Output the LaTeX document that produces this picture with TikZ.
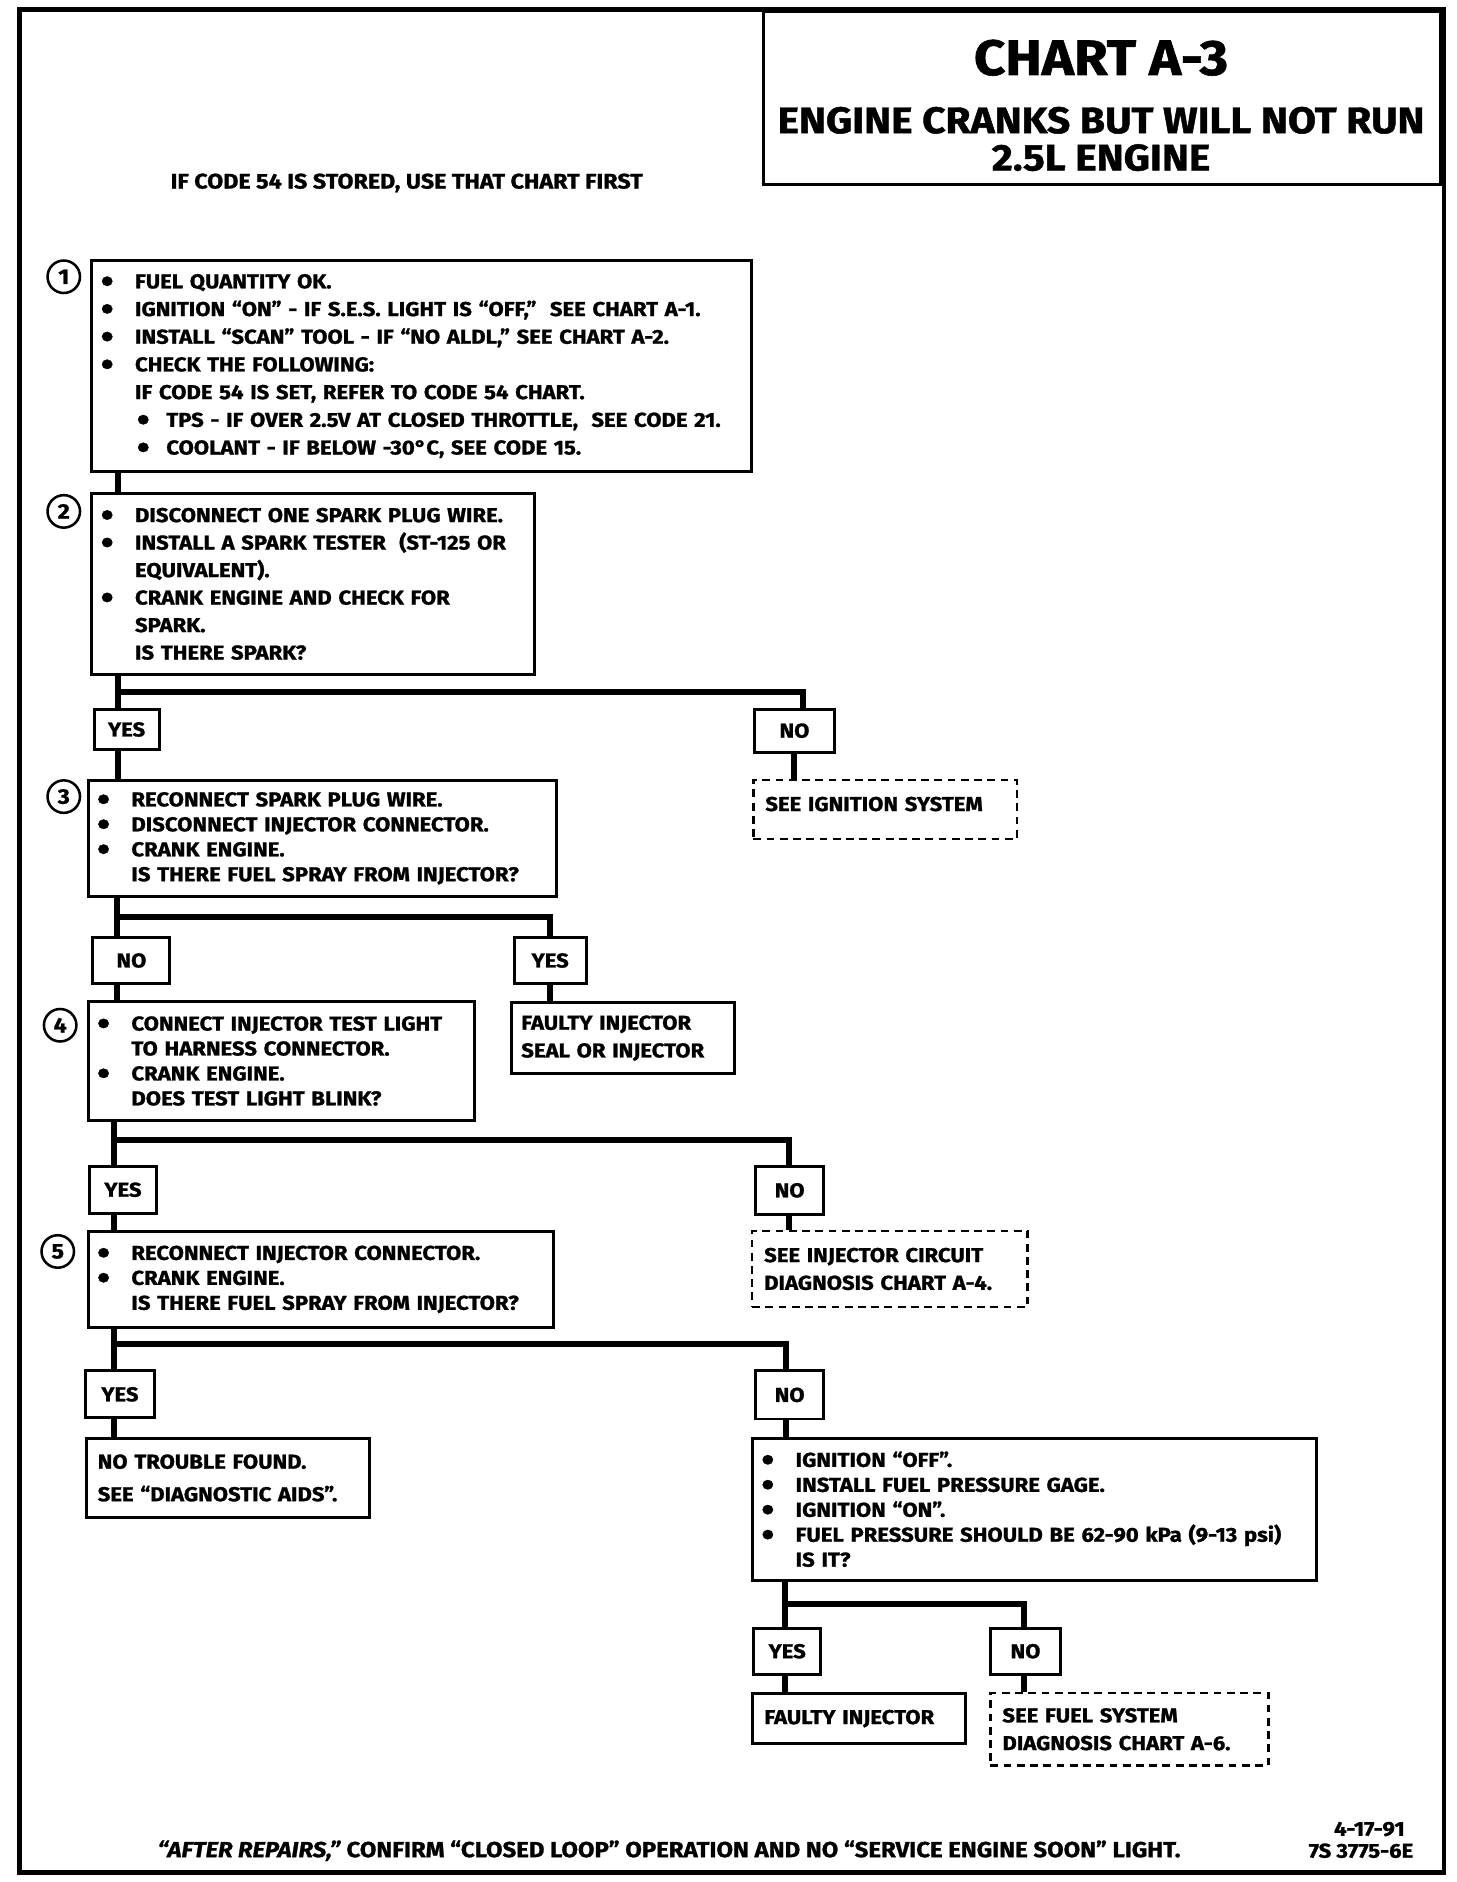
\documentclass[tikz,border=0pt]{standalone}
\usepackage{fontspec}
\newfontfamily\chartfont{Fira Sans}[FakeStretch=1.1, FakeBold=1.2]
\newcommand\stepfont[1]{\chartfont\bfseries\fontsize{9.5}{#1}\selectfont}
\newcommand\dotmark{\smash{\fontsize{16}{0}\selectfont\raisebox{-2.1pt}{•}}}
\newcommand\bul{\makebox[0.52cm][l]{\hspace*{-0.05cm}\dotmark}}
\newcommand\ind{\hspace*{0.52cm}}
\newcommand\subbul{\hspace*{0.55cm}\makebox[0.49cm][l]{\dotmark}}

\begin{document}
\begin{tikzpicture}[x=0.02cm, y=-0.02cm,
  stepbox/.style={draw, line width=1.4pt, anchor=north west, align=left, inner xsep=0.2cm, inner ysep=0pt, text width=#1, font=\stepfont{11.8}},
  seebox/.style={stepbox=#1, dashed, dash pattern=on 0.13cm off 0.09cm, line width=1.2pt},
  ansbox/.style={draw, line width=1.4pt, anchor=north west, inner sep=0pt, font=\stepfont{11}},
  stepnum/.style={circle, draw, line width=1.2pt, minimum size=0.54cm, inner sep=0pt, font=\chartfont\bfseries\fontsize{10}{10}\selectfont},
  conn/.style={line width=2.8pt}]

\useasboundingbox (0,0) rectangle (1210,1564);
\draw[line width=2.2pt] (16,8) rectangle (1200,1556);

% title block
\node[draw, line width=1.5pt, anchor=north west, minimum width=11.26cm, minimum height=2.88cm] (titlebox) at (633,8) {};
\node[font=\chartfont\bfseries\fontsize{23.5}{23.5}\selectfont] (chart) at (915,48) {CHART A-3};
\node[font=\chartfont\bfseries\fontsize{17.5}{17.5}\selectfont] (title1) at (915,100) {ENGINE CRANKS BUT WILL NOT RUN};
\node[font=\chartfont\bfseries\fontsize{17.5}{17.5}\selectfont] (title2) at (915,131) {2.5L ENGINE};
\node[font=\chartfont\bfseries\fontsize{10}{11}\selectfont] (hdr) at (338,152) {IF CODE 54 IS STORED, USE THAT CHART FIRST};

% steps
\node[stepbox=10.56cm, minimum height=3.52cm, font=\stepfont{13.1}] (box1) at (75,215) {\bul FUEL QUANTITY OK.\\
\bul IGNITION “ON” - IF S.E.S. LIGHT IS “OFF,”\ \ SEE CHART A-1.\\
\bul INSTALL “SCAN” TOOL - IF “NO ALDL,” SEE CHART A-2.\\
\bul CHECK THE FOLLOWING:\\
\ind IF CODE 54 IS SET, REFER TO CODE 54 CHART.\\
\subbul TPS - IF OVER 2.5V AT CLOSED THROTTLE,\ \ SEE CODE 21.\\
\subbul COOLANT - IF BELOW -30°C, SEE CODE 15.};
\node[stepnum] (n1) at (53,230) {1};

\node[stepbox=6.96cm, minimum height=3cm, font=\stepfont{13}] (box2) at (75,409) {\bul DISCONNECT ONE SPARK PLUG WIRE.\\
\bul INSTALL A SPARK TESTER\ \ (ST-125 OR\\
\ind EQUIVALENT).\\
\bul CRANK ENGINE AND CHECK FOR\\
\ind SPARK.\\
\ind IS THERE SPARK?};
\node[stepnum] (n2) at (53,425) {2};

\node[ansbox, minimum width=1.08cm, minimum height=0.68cm] (yes2) at (77,588) {YES};
\node[ansbox, minimum width=1.32cm, minimum height=0.72cm] (no2) at (626,588) {NO};
\node[seebox=3.98cm, minimum height=0.98cm, text depth=0.18cm] (seeign) at (625,647) {SEE IGNITION SYSTEM};

\node[stepbox=7.38cm, minimum height=1.94cm] (box3) at (72,647) {\bul RECONNECT SPARK PLUG WIRE.\\
\bul DISCONNECT INJECTOR CONNECTOR.\\
\bul CRANK ENGINE.\\
\ind IS THERE FUEL SPRAY FROM INJECTOR?};
\node[stepnum] (n3) at (53,662) {3};

\node[ansbox, minimum width=1.28cm, minimum height=0.76cm] (no3) at (76,778) {NO};
\node[ansbox, minimum width=1.2cm, minimum height=0.76cm] (yes3) at (426,778) {YES};
\node[stepbox=3.38cm, minimum height=1.18cm, inner xsep=0.16cm, font=\stepfont{13.1}] (seal) at (424,832) {FAULTY INJECTOR\\ SEAL OR INJECTOR};

\node[stepbox=6.02cm, minimum height=1.98cm] (box4) at (72,831) {\bul CONNECT INJECTOR TEST LIGHT\\
\ind TO HARNESS CONNECTOR.\\
\bul CRANK ENGINE.\\
\ind DOES TEST LIGHT BLINK?};
\node[stepnum] (n4) at (50,852) {4};

\node[ansbox, minimum width=1.12cm, minimum height=0.78cm] (yes4) at (73,968) {YES};
\node[ansbox, minimum width=1.12cm, minimum height=0.8cm] (no4) at (627,968) {NO};
\node[seebox=4.18cm, minimum height=1.26cm, font=\stepfont{13.1}] (seeinj) at (624,1022) {SEE INJECTOR CIRCUIT\\ DIAGNOSIS CHART A-4.};

\node[stepbox=7.34cm, minimum height=1.6cm] (box5) at (72,1022) {\bul RECONNECT INJECTOR CONNECTOR.\\
\bul CRANK ENGINE.\\
\ind IS THERE FUEL SPRAY FROM INJECTOR?};
\node[stepnum] (n5) at (48,1040) {5};

\node[ansbox, minimum width=1.14cm, minimum height=0.78cm] (yes5) at (70,1138) {YES};
\node[ansbox, minimum width=1.12cm, minimum height=0.8cm] (no5) at (627,1138) {NO};
\node[stepbox=4.34cm, minimum height=1.32cm, inner xsep=0.18cm, font=\stepfont{15.4}] (nofault) at (71,1194) {NO TROUBLE FOUND.\\ SEE “DIAGNOSTIC AIDS”.};

\node[stepbox=8.98cm, minimum height=2.36cm] (box6) at (624,1194) {\bul IGNITION “OFF”.\\
\bul INSTALL FUEL PRESSURE GAGE.\\
\bul IGNITION “ON”.\\
\bul FUEL PRESSURE SHOULD BE 62-90 kPa (9-13 psi)\\
\ind IS IT?};

\node[ansbox, minimum width=1.12cm, minimum height=0.76cm] (yes6) at (625,1352) {YES};
\node[ansbox, minimum width=1.16cm, minimum height=0.76cm] (no6) at (822,1352) {NO};
\node[stepbox=3.14cm, minimum height=0.84cm] (faulty) at (624,1406) {FAULTY INJECTOR};
\node[seebox=4.22cm, minimum height=1.2cm, font=\stepfont{13.1}] (seefuel) at (822,1406) {SEE FUEL SYSTEM\\ DIAGNOSIS CHART A-6.};

% connectors
\coordinate (j1) at (98,0);
\draw[conn] (box1.south -| j1) -- (box2.north -| j1);

\coordinate (j2) at (98,575);
\coordinate (k2) at (667,575);
\draw[conn] (box2.south -| j2) -- (j2) -- (k2) -- (no2.north -| k2);
\draw[conn] (j2) -- (yes2.north -| j2);
\draw[conn] (yes2.south -| j2) -- (box3.north -| j2);
\draw[conn] (no2.south -| 660,0) -- (seeign.north -| 660,0);

\coordinate (j3) at (97,762);
\coordinate (k3) at (457,762);
\draw[conn] (box3.south -| j3) -- (j3) -- (k3) -- (yes3.north -| k3);
\draw[conn] (j3) -- (no3.north -| j3);
\draw[conn] (no3.south -| j3) -- (box4.north -| j3);
\draw[conn] (yes3.south -| k3) -- (seal.north -| k3);

\coordinate (j4) at (95,947);
\coordinate (k4) at (656,947);
\draw[conn] (box4.south -| j4) -- (j4) -- (k4) -- (no4.north -| k4);
\draw[conn] (j4) -- (yes4.north -| j4);
\draw[conn] (yes4.south -| j4) -- (box5.north -| j4);
\draw[conn] (no4.south -| k4) -- (seeinj.north -| k4);

\coordinate (j5) at (95,1117);
\coordinate (k5) at (653,1117);
\draw[conn] (box5.south -| j5) -- (j5) -- (k5) -- (no5.north -| k5);
\draw[conn] (j5) -- (yes5.north -| j5);
\draw[conn] (yes5.south -| j5) -- (nofault.north -| j5);
\draw[conn] (no5.south -| k5) -- (box6.north -| k5);

\coordinate (j6) at (652,1333);
\coordinate (k6) at (851,1333);
\draw[conn] (box6.south -| j6) -- (j6) -- (k6) -- (no6.north -| k6);
\draw[conn] (j6) -- (yes6.north -| j6);
\draw[conn] (yes6.south -| j6) -- (faulty.north -| j6);
\draw[conn] (no6.south -| k6) -- (seefuel.north -| k6);

% footer
\node[font=\chartfont\bfseries\fontsize{10.3}{11}\selectfont] (foot) at (556,1538) {\textit{“AFTER REPAIRS,”} CONFIRM “CLOSED LOOP” OPERATION AND NO “SERVICE ENGINE SOON” LIGHT.};
\node[font=\stepfont{11}] (date) at (1138,1520) {4-17-91};
\node[font=\stepfont{11}] (code) at (1131,1538) {7S 3775-6E};
\end{tikzpicture}
\end{document}
